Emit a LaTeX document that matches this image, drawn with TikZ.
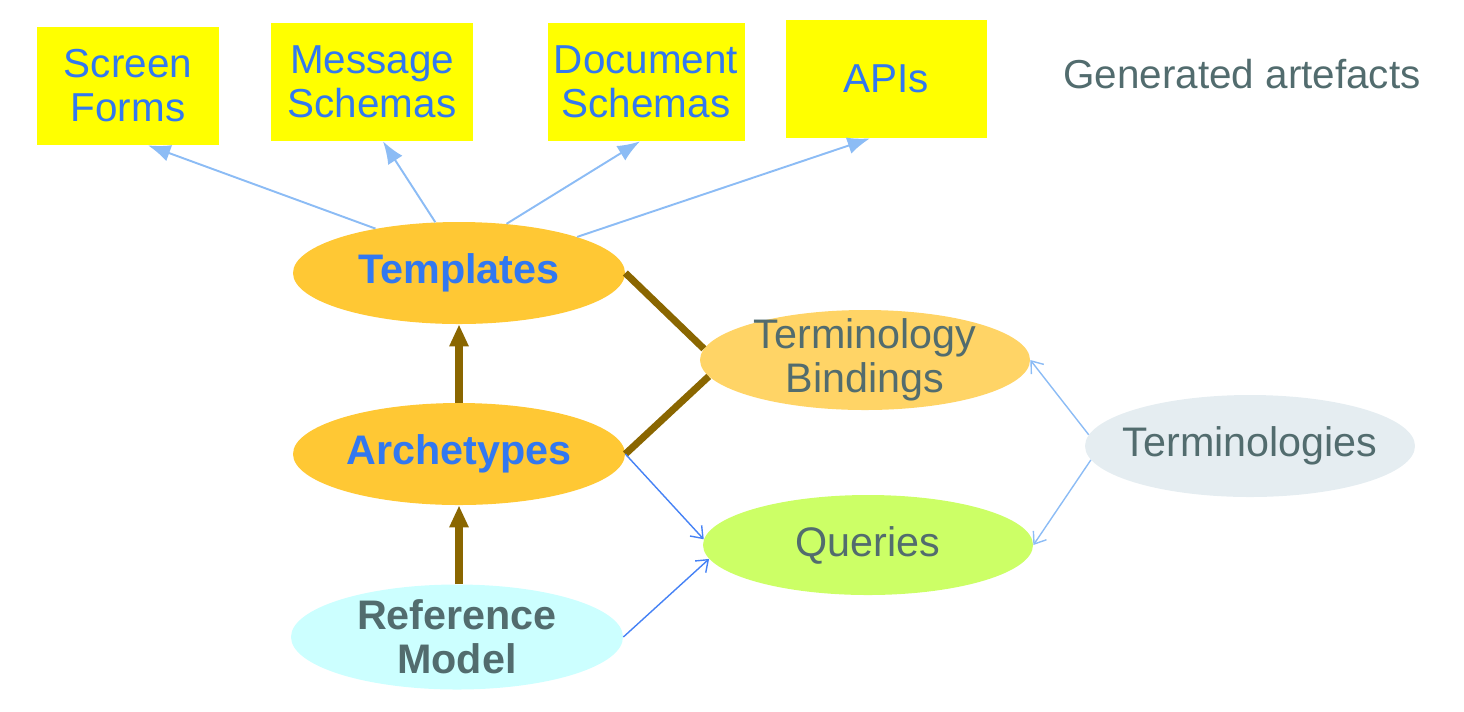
\documentclass[tikz,border=0pt]{standalone}
\usepackage{fontspec}
\setmainfont{Liberation Sans}
\usepackage{tikz}
\usetikzlibrary{shapes,arrows,positioning,shapes.geometric,arrows.meta}
\definecolor{boxyellow}{RGB}{255,255,0}
\definecolor{textblue}{RGB}{50,120,240}
\definecolor{textgrey}{RGB}{82,108,110}
\definecolor{gold}{RGB}{255,200,52}
\definecolor{lightgold}{RGB}{255,212,102}
\definecolor{paleblue}{RGB}{204,255,255}
\definecolor{lime}{RGB}{204,255,102}
\definecolor{mist}{RGB}{229,237,241}
\definecolor{brown}{RGB}{138,102,0}
\definecolor{skyline}{RGB}{140,188,245}
\definecolor{blueline}{RGB}{70,130,245}
\tikzstyle{artefact} = [rectangle, fill=boxyellow, text=textblue, align=center,
    minimum height=2.36cm, font=\fontsize{23}{25}\selectfont]
\tikzstyle{model} = [ellipse, inner sep=-0.4cm, minimum width=6.64cm, minimum height=2.04cm,
    align=center, font=\fontsize{23.5}{25}\selectfont]
\tikzstyle{gen} = [draw=skyline, line width=1.1pt, -{Latex[length=0.45cm,width=0.34cm]}]
\tikzstyle{derive} = [draw=brown, line width=4pt, -{Triangle[length=0.44cm,width=0.36cm]}]
\tikzstyle{bind} = [draw=brown, line width=4pt]
\tikzstyle{line} = [draw=blueline, line width=0.8pt, -{Straight Barb[length=6pt,width=9pt]}]
\tikzstyle{lightline} = [draw=skyline, line width=0.8pt, -{Straight Barb[length=6pt,width=9pt]}]

\begin{document}
\begin{tikzpicture}
\useasboundingbox (0,0) rectangle (29.28,-14.22);

% Generated artefacts
\node[artefact, minimum width=3.64cm] (forms) at (2.56,-1.72) {Screen\\Forms};
\node[artefact, minimum width=4.04cm] (msg) at (7.44,-1.64) {Message\\Schemas};
\node[artefact, minimum width=3.94cm] (doc) at (12.92,-1.64) {Document\\Schemas};
\node[artefact, minimum width=4.02cm] (apis) at (17.72,-1.58) {APIs};
\node[text=textgrey, font=\fontsize{23}{25}\selectfont] (gentitle) at (24.84,-1.48) {Generated artefacts};

% Models
\node[model, fill=gold, text=textblue, font=\fontsize{23.5}{25}\selectfont\bfseries] (tmpl) at (9.18,-5.46) {Templates};
\node[model, fill=gold, text=textblue, font=\fontsize{23.5}{25}\selectfont\bfseries] (arch) at (9.18,-9.08) {Archetypes};
\node[model, fill=paleblue, text=textgrey, minimum height=2.1cm, font=\fontsize{23.5}{25}\selectfont\bfseries] (rm) at (9.14,-12.74) {Reference\\Model};

% Terminology side
\node[model, fill=lightgold, text=textgrey, minimum width=6.6cm, minimum height=2.0cm] (tb) at (17.30,-7.20) {Terminology\\Bindings};
\node[model, fill=lime, text=textgrey, minimum width=6.6cm, minimum height=2.0cm] (qry) at (17.36,-10.90) {Queries};
\node[model, fill=mist, text=textgrey, minimum width=6.6cm] (term) at (25.0,-8.92) {Terminologies};

% Arrows to artefacts
\draw[gen] (tmpl.152) -- ([xshift=0.4cm]forms.south);
\draw[gen] (tmpl.115) -- ([xshift=0.22cm]msg.south);
\draw[gen] (tmpl.46) -- ([xshift=-0.12cm]doc.south);
\draw[gen] (tmpl.17) -- ([xshift=-0.32cm]apis.south);

% Derivation
\draw[derive] (arch.north) -- (tmpl.south);
\draw[derive] (rm.north -| arch.south) -- (arch.south);
\draw[bind] (tmpl.east) -- (tb.176);
\draw[bind] (arch.east) -- (tb.186);

% Queries and terminologies
\draw[line] (arch.east) -- (qry.178);
\draw[line] (rm.east) -- (qry.185);
\draw[lightline] (term.176) -- (tb.east);
\draw[lightline] (term.185) -- (qry.east);

\end{tikzpicture}
\end{document}
